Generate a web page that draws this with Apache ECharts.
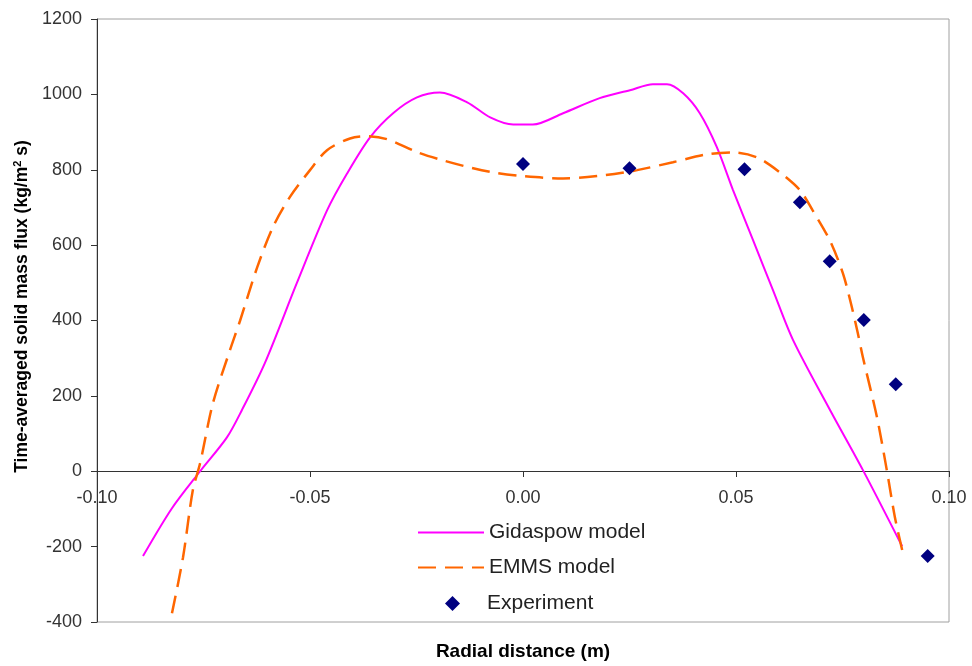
<!DOCTYPE html>
<html>
<head>
<meta charset="utf-8">
<script src="https://cdn.jsdelivr.net/npm/echarts@6/dist/echarts.min.js"></script>
<style>html,body{margin:0;padding:0;background:#fff;}#c{width:972px;height:666px;}</style>
</head>
<body>
<div id="c"></div>
<script>
// Radial distance (m), time-averaged solid mass flux (kg/m2 s)
const gidaspow = [
  [-0.0892,-225],[-0.0824,-98],[-0.0758,0],[-0.0695,90],[-0.066,162],[-0.0606,287],
  [-0.0531,499],[-0.046,692],[-0.0413,790],[-0.0359,886],[-0.0305,950],[-0.0249,992],
  [-0.0195,1005],[-0.0131,979],[-0.0077,939],[-0.0023,920],[0.0023,920],[0.0094,950],
  [0.018,990],[0.0251,1011],[0.0305,1027],[0.0338,1027],[0.0376,1003],[0.0415,950],
  [0.0455,860],[0.0493,746],[0.054,613],[0.0587,480],[0.0634,348],[0.0721,162],
  [0.0798,3],[0.089,-199]
];
const emms = [
  [-0.0824,-377],[-0.0798,-228],[-0.0775,-50],[-0.0758,21],[-0.0728,180],[-0.0688,321],
  [-0.0664,400],[-0.0624,541],[-0.0587,648],[-0.0547,728],[-0.05,799],[-0.046,852],
  [-0.0406,883],[-0.0366,889],[-0.0319,881],[-0.0249,847],[-0.0188,825],[-0.0117,804],
  [-0.0061,791],[0.0,783],[0.0094,777],[0.0188,785],[0.0268,799],[0.0352,820],
  [0.0432,841],[0.0493,846],[0.0549,833],[0.0603,793],[0.065,746],[0.068,692],
  [0.072,613],[0.0751,525],[0.0772,435],[0.0786,366],[0.0798,302],[0.0831,143],
  [0.0854,3],[0.0873,-122],[0.0892,-218]
];
const experiment = [
  [0.0,815],[0.025,804],[0.052,801],[0.065,714],[0.072,557],[0.080,401],[0.0875,231],[0.095,-225]
];
const seriesNames = ['Gidaspow model','EMMS model','Experiment'];

const FONT = 'Liberation Sans, Arial, sans-serif';
const hidden = {color:'rgba(0,0,0,0)', borderColor:'rgba(0,0,0,0)', borderWidth:0, opacity:0};
const Y_MIN = -400, Y_MAX = 1200;
const GRID = {left:97, top:19, right:23, bottom:44};
const plotH = 666 - GRID.top - GRID.bottom;
// x axis sits on y = 0 (moved up from the grid bottom)
const xAxisOffset = -Math.round(plotH * (0 - Y_MIN) / (Y_MAX - Y_MIN));

const chart = echarts.init(document.getElementById('c'), null, {renderer:'canvas'});
chart.setOption({
  animation:false,
  backgroundColor:'#fff',
  grid:Object.assign({show:true, borderColor:'#a0a0a0', borderWidth:1,
        backgroundColor:'transparent', containLabel:false, outerBoundsMode:'none'}, GRID),
  xAxis:{
    type:'value', min:-0.1, max:0.1, interval:0.05, position:'bottom', offset:xAxisOffset,
    axisLine:{onZero:false, lineStyle:{color:'#333', width:1}},
    axisTick:{show:true, length:6, lineStyle:{color:'#333'}},
    axisLabel:{margin:18, color:'#333', fontSize:18, fontFamily:FONT,
      formatter:v=>v.toFixed(2)},
    splitLine:{show:false},
    name:'Radial distance (m)', nameLocation:'middle', nameGap:171,
    nameTextStyle:{color:'#000', fontSize:19, fontWeight:'bold', fontFamily:FONT}
  },
  yAxis:{
    type:'value', min:Y_MIN, max:Y_MAX, interval:200,
    axisLine:{show:true, onZero:false, lineStyle:{color:'#333', width:1}},
    axisTick:{show:true, length:6, lineStyle:{color:'#333'}},
    axisLabel:{margin:15, color:'#333', fontSize:18, fontFamily:FONT, formatter:v=>String(v)},
    splitLine:{show:false},
    name:'{t|Time-averaged solid mass flux (kg/m}{s|2}{t| s)}', nameLocation:'middle', nameGap:60,
    nameTextStyle:{
      padding:[0,0,0,28],
      rich:{
        t:{fontSize:17.5, fontWeight:'bold', fontFamily:FONT, color:'#000', lineHeight:20},
        s:{fontSize:11, fontWeight:'bold', fontFamily:FONT, color:'#000', lineHeight:20, verticalAlign:'top'}
      }
    }
  },
  legend:[
    {
      orient:'vertical', left:417, top:522, padding:0, itemWidth:66, itemHeight:14, itemGap:14,
      textStyle:{fontSize:21, color:'#222', fontFamily:FONT},
      data:[
        {name:seriesNames[0], itemStyle:hidden},
        {name:seriesNames[1], itemStyle:hidden}
      ]
    },
    {
      orient:'vertical', left:445, top:593, padding:0, itemWidth:15, itemHeight:15,
      textStyle:{fontSize:21, color:'#222', fontFamily:FONT, padding:[0,0,0,22]},
      data:[{name:seriesNames[2], icon:'diamond'}]
    }
  ],
  series:[
    {name:seriesNames[0], type:'line', data:gidaspow, smooth:0.3, symbol:'none',
     lineStyle:{color:'#ff00ff', width:2}, itemStyle:{color:'#ff00ff'}, z:2},
    {name:seriesNames[1], type:'line', data:emms, smooth:0.3, symbol:'none',
     lineStyle:{color:'#ff6600', width:2.5, type:[18,9]}, itemStyle:{color:'#ff6600'}, z:3},
    {name:seriesNames[2], type:'scatter', data:experiment, symbol:'diamond', symbolSize:14,
     itemStyle:{color:'#000080', opacity:1}, z:4}
  ]
});
</script>
</body>
</html>
